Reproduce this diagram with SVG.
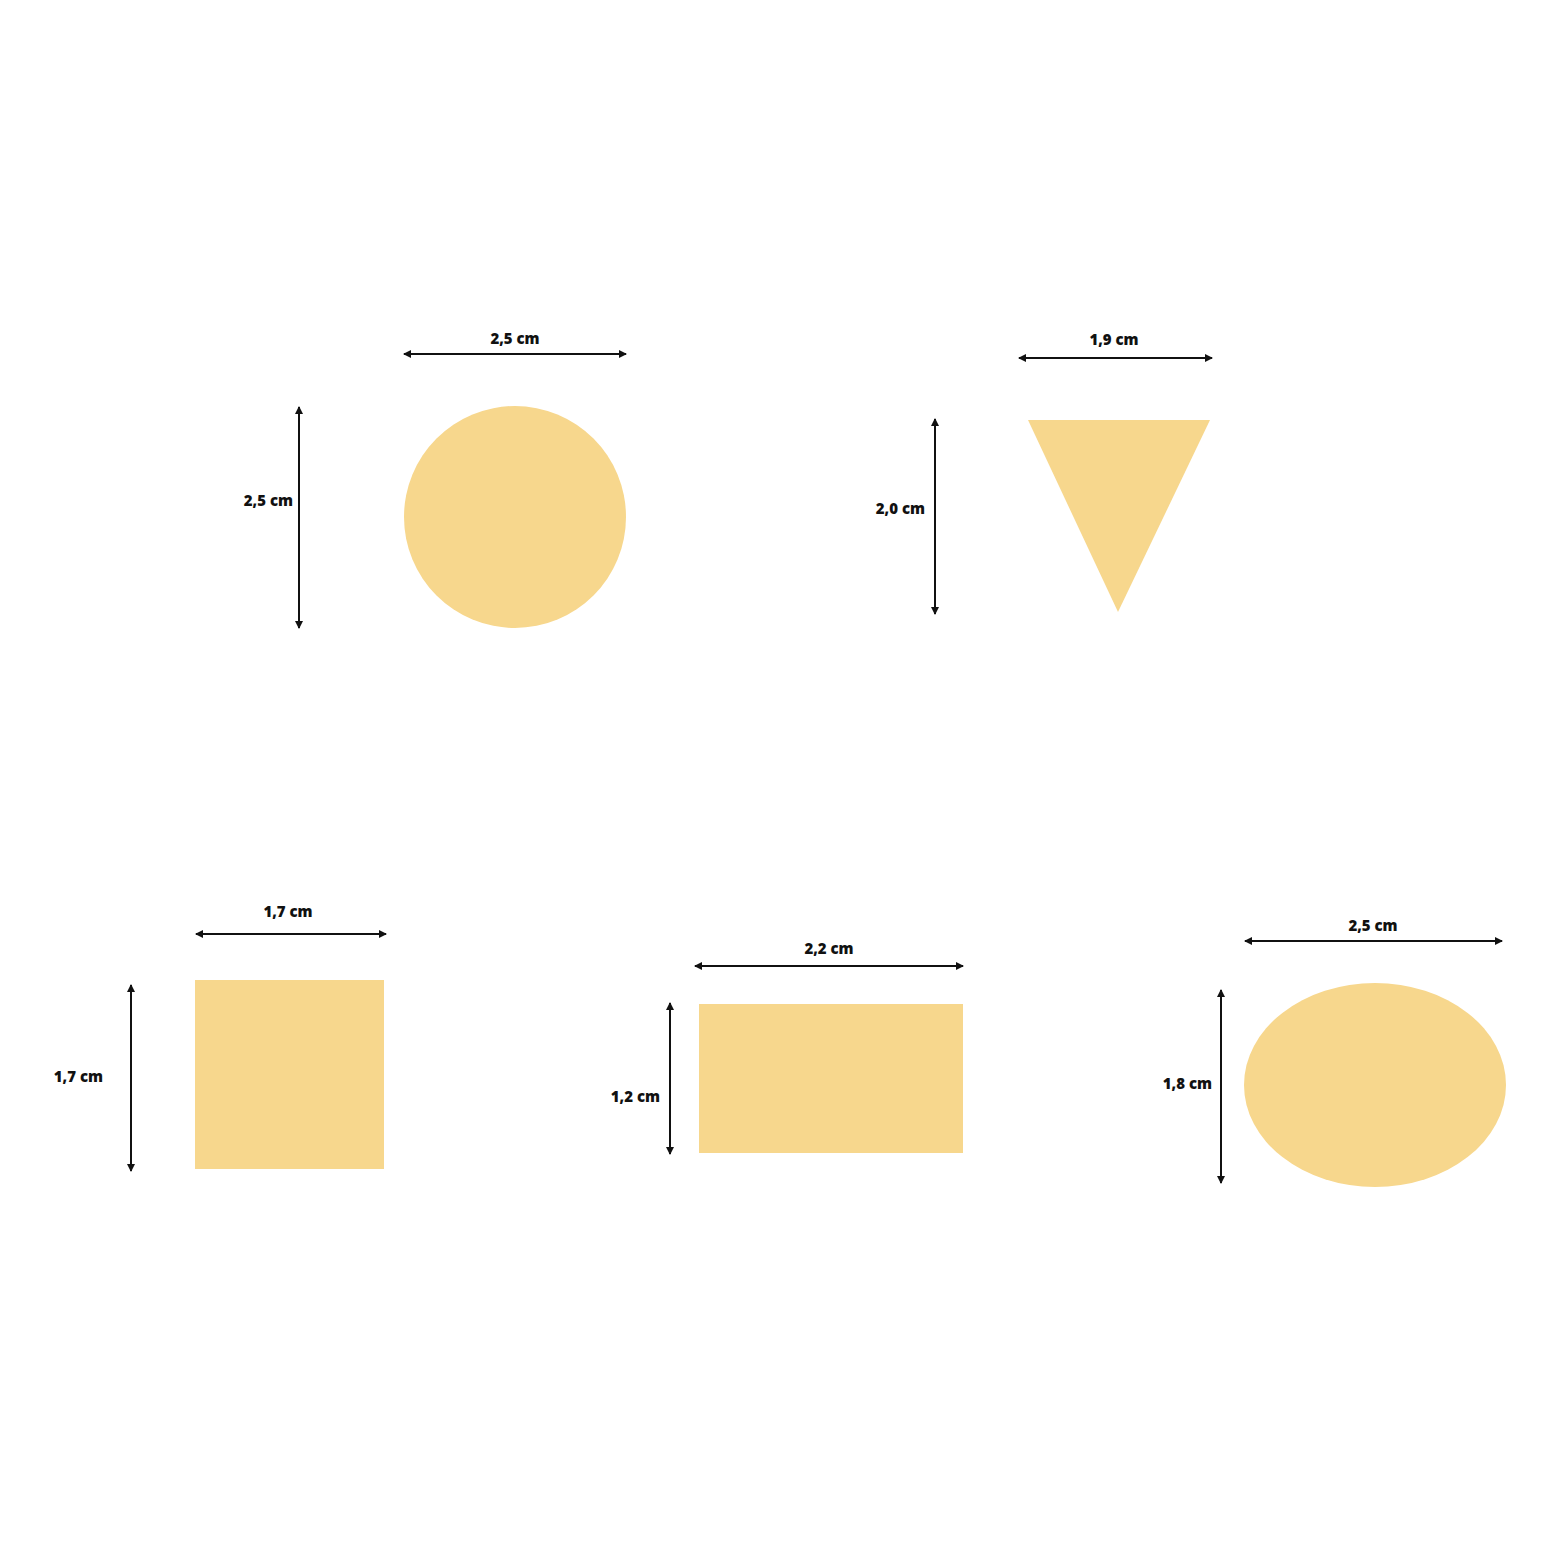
<svg xmlns="http://www.w3.org/2000/svg" width="1568" height="1568" viewBox="0 0 1568 1568">
<style>
.shape{fill:#F7D78D}
.dim{stroke:#111;stroke-width:2;fill:none;marker-start:url(#ah);marker-end:url(#ah)}
.lbl{font-family:"Open Sans","DejaVu Sans",sans-serif;font-weight:800;font-size:15px;fill:#111}
.c{text-anchor:middle}
.e{text-anchor:end}
</style>
<defs>
<marker id="ah" viewBox="0 0 8 8" refX="7" refY="4" markerWidth="4" markerHeight="4" orient="auto-start-reverse" markerUnits="strokeWidth">
<path d="M0,0 L8,4 L0,8 Z" fill="#111"/>
</marker>
</defs>
<rect width="1568" height="1568" fill="#fff"/>
<g id="circle"><circle class="shape" cx="515" cy="517" r="111"/></g>
<g id="triangle"><polygon class="shape" points="1028,420 1210,420 1118,612"/></g>
<g id="square"><rect class="shape" x="195" y="980" width="189" height="189"/></g>
<g id="rectangle"><rect class="shape" x="699" y="1004" width="264" height="149"/></g>
<g id="ellipse"><ellipse class="shape" cx="1375" cy="1085" rx="131" ry="102"/></g>
<g id="connectors">
<line class="dim" x1="404" y1="354" x2="626" y2="354"/>
<line class="dim" x1="299" y1="407" x2="299" y2="628"/>
<line class="dim" x1="1019" y1="358" x2="1212" y2="358"/>
<line class="dim" x1="935" y1="419" x2="935" y2="614"/>
<line class="dim" x1="196" y1="934" x2="386" y2="934"/>
<line class="dim" x1="131" y1="985" x2="131" y2="1171"/>
<line class="dim" x1="695" y1="966" x2="963" y2="966"/>
<line class="dim" x1="670" y1="1003" x2="670" y2="1154"/>
<line class="dim" x1="1245" y1="941" x2="1502" y2="941"/>
<line class="dim" x1="1221" y1="990" x2="1221" y2="1183"/>
</g>
<g id="labels">
<text class="lbl c" x="515" y="344">2,5 cm</text>
<text class="lbl e" x="293" y="506">2,5 cm</text>
<text class="lbl c" x="1114" y="345">1,9 cm</text>
<text class="lbl e" x="925" y="514">2,0 cm</text>
<text class="lbl c" x="288" y="917">1,7 cm</text>
<text class="lbl e" x="103" y="1082">1,7 cm</text>
<text class="lbl c" x="829" y="954">2,2 cm</text>
<text class="lbl e" x="660" y="1102">1,2 cm</text>
<text class="lbl c" x="1373" y="931">2,5 cm</text>
<text class="lbl e" x="1212" y="1089">1,8 cm</text>
</g>
</svg>
